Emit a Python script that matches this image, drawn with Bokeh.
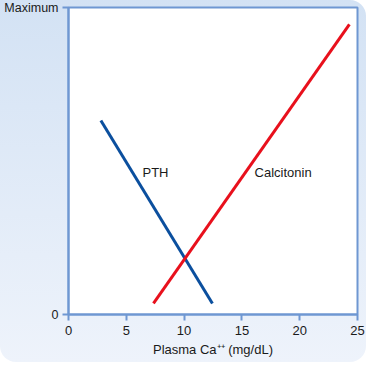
from bokeh.plotting import figure
from bokeh.models import Range1d, FixedTicker, Label
from bokeh.embed import file_html
from bokeh.resources import INLINE

# Data
pth_x = [2.8, 12.45]
pth_y = [63.2, 3.6]
calc_x = [7.35, 24.3]
calc_y = [3.6, 94.5]
x_ticks = [0, 5, 10, 15, 20, 25]
y_ticks = [0, 100]
y_tick_labels = {0: "0", 100: "Maximum"}
series_labels = ["PTH", "Calcitonin"]
label_pos_x = [6.4, 16.1]
label_pos_y = [46.3, 46.3]

AXIS = "#6f97d2"
FONT = "Liberation Sans"
TXT = "#1a1a1a"
FS = "13px"

p = figure(width=366, height=362, output_backend="svg", toolbar_location=None,
           x_range=Range1d(0, 25), y_range=Range1d(0, 100),
           min_border_left=68, min_border_right=9, min_border_top=7, min_border_bottom=48)
p.border_fill_color = None
p.background_fill_color = "white"
p.styles = {"background": "linear-gradient(to bottom, #d3e2f4, #eef3fb)",
            "border-radius": "0px 16px 16px 16px"}
p.outline_line_color = AXIS
p.outline_line_width = 2
p.grid.visible = False

p.line(pth_x, pth_y, line_color="#0b4f9e", line_width=3)
p.line(calc_x, calc_y, line_color="#e8101c", line_width=3)

for t, lx, ly in zip(series_labels, label_pos_x, label_pos_y):
    p.add_layout(Label(x=lx, y=ly, text=t, text_font=FONT, text_font_size=FS,
                       text_color=TXT, text_baseline="middle", text_align="left"))

for ax in (p.xaxis[0], p.yaxis[0]):
    ax.axis_line_color = AXIS
    ax.axis_line_width = 2
    ax.major_tick_line_color = AXIS
    ax.major_tick_line_width = 2
    ax.major_tick_out = 6
    ax.major_tick_in = 0
    ax.minor_tick_line_color = None
    ax.major_label_text_font = FONT
    ax.major_label_text_font_size = FS
    ax.major_label_text_color = TXT
    ax.major_label_standoff = 5

p.yaxis.major_label_text_font_size = "12.5px"
p.yaxis.major_label_standoff = 4

p.xaxis.ticker = FixedTicker(ticks=x_ticks)
p.yaxis.ticker = FixedTicker(ticks=y_ticks)
p.yaxis.major_label_overrides = y_tick_labels
p.xaxis.axis_label = "Plasma Ca\u207a\u207a (mg/dL)"
p.xaxis.axis_label_text_font = FONT
p.xaxis.axis_label_text_font_size = FS
p.xaxis.axis_label_text_font_style = "normal"
p.xaxis.axis_label_text_color = TXT
p.xaxis.axis_label_standoff = 4

open("out.html", "w").write(file_html(p, INLINE))
